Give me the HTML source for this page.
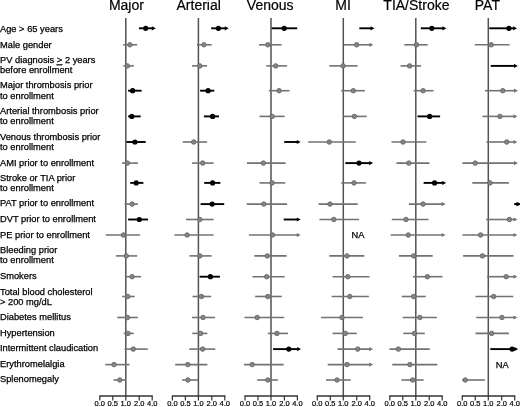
<!DOCTYPE html>
<html><head><meta charset="utf-8"><style>html,body{margin:0;padding:0;background:#fff;}body{width:520px;height:407px;overflow:hidden;}svg{display:block;will-change:transform;}text{font-family:"Liberation Sans",sans-serif;}</style></head><body>
<svg width="520" height="407" viewBox="0 0 520 407">
<rect width="520" height="407" fill="#fff"/>
<g font-size="9.3" fill="#000" stroke="#000" stroke-width="0.25">
<text x="0" y="32.3">Age &gt; 65 years</text>
<text x="0" y="47.6">Male gender</text>
<text x="0" y="63.3">PV diagnosis <tspan text-decoration="underline">&gt;</tspan> 2 years</text>
<text x="0" y="73">before enrollment</text>
<text x="0" y="88.4">Major thrombosis prior</text>
<text x="0" y="98.8">to enrollment</text>
<text x="0" y="113.9">Arterial thrombosis prior</text>
<text x="0" y="124.3">to enrollment</text>
<text x="0" y="140">Venous thrombosis prior</text>
<text x="0" y="149.9">to enrollment</text>
<text x="0" y="165.5">AMI prior to enrollment</text>
<text x="0" y="180.7">Stroke or TIA prior</text>
<text x="0" y="190.5">to enrollment</text>
<text x="0" y="206.2">PAT prior to enrollment</text>
<text x="0" y="221.9">DVT prior to enrollment</text>
<text x="0" y="237.6">PE prior to enrollment</text>
<text x="0" y="252.7">Bleeding prior</text>
<text x="0" y="263.1">to enrollment</text>
<text x="0" y="278.8">Smokers</text>
<text x="0" y="294.6">Total blood cholesterol</text>
<text x="0" y="305">&gt; 200 mg/dL</text>
<text x="0" y="320.2">Diabetes mellitus</text>
<text x="0" y="335.5">Hypertension</text>
<text x="0" y="351.3">Intermittent claudication</text>
<text x="0" y="366.6">Erythromelalgia</text>
<text x="0" y="382.2">Splenomegaly</text>
</g>
<text x="126.4" y="9.6" font-size="14" text-anchor="middle" fill="#000" stroke="#000" stroke-width="0.2">Major</text>
<line x1="125.8" y1="18" x2="125.8" y2="396" stroke="#525252" stroke-width="1.5"/>
<line x1="99.2" y1="396" x2="152.8" y2="396" stroke="#333333" stroke-width="1.3"/>
<line x1="99.8" y1="396" x2="99.8" y2="400.5" stroke="#333333" stroke-width="1.2"/>
<text x="99.8" y="406" font-size="7.5" text-anchor="middle" fill="#000" stroke="#000" stroke-width="0.2">0.0</text>
<line x1="112.8" y1="396" x2="112.8" y2="400.5" stroke="#333333" stroke-width="1.2"/>
<text x="112.8" y="406" font-size="7.5" text-anchor="middle" fill="#000" stroke="#000" stroke-width="0.2">0.5</text>
<line x1="125.8" y1="396" x2="125.8" y2="400.5" stroke="#333333" stroke-width="1.2"/>
<text x="125.8" y="406" font-size="7.5" text-anchor="middle" fill="#000" stroke="#000" stroke-width="0.2">1.0</text>
<line x1="139.2" y1="396" x2="139.2" y2="400.5" stroke="#333333" stroke-width="1.2"/>
<text x="139.2" y="406" font-size="7.5" text-anchor="middle" fill="#000" stroke="#000" stroke-width="0.2">2.0</text>
<line x1="152.2" y1="396" x2="152.2" y2="400.5" stroke="#333333" stroke-width="1.2"/>
<text x="152.2" y="406" font-size="7.5" text-anchor="middle" fill="#000" stroke="#000" stroke-width="0.2">4.0</text>
<line x1="139" y1="28.3" x2="152.4" y2="28.3" stroke="#000000" stroke-width="1.9"/>
<path d="M155.8 28.3L151.9 26.2L151.9 30.4Z" fill="#000000"/>
<circle cx="145.7" cy="28.3" r="2.6" fill="#000000"/>
<line x1="123.2" y1="44.8" x2="137.2" y2="44.8" stroke="#727272" stroke-width="1.6"/>
<circle cx="129.9" cy="44.8" r="2.25" fill="#858585" stroke="#666666" stroke-width="0.9"/>
<line x1="123.4" y1="65.9" x2="133.9" y2="65.9" stroke="#727272" stroke-width="1.6"/>
<circle cx="127.4" cy="65.9" r="2.25" fill="#858585" stroke="#666666" stroke-width="0.9"/>
<line x1="128.1" y1="90.7" x2="141.6" y2="90.7" stroke="#000000" stroke-width="1.9"/>
<circle cx="132.6" cy="90.7" r="2.6" fill="#000000"/>
<line x1="128.1" y1="116.4" x2="140.7" y2="116.4" stroke="#000000" stroke-width="1.9"/>
<circle cx="131.8" cy="116.4" r="2.6" fill="#000000"/>
<line x1="126.4" y1="142" x2="145.7" y2="142" stroke="#000000" stroke-width="1.9"/>
<circle cx="134.9" cy="142" r="2.6" fill="#000000"/>
<line x1="122" y1="163.1" x2="138" y2="163.1" stroke="#727272" stroke-width="1.6"/>
<circle cx="127.4" cy="163.1" r="2.25" fill="#858585" stroke="#666666" stroke-width="0.9"/>
<line x1="130.2" y1="182.9" x2="143.4" y2="182.9" stroke="#000000" stroke-width="1.9"/>
<circle cx="136.2" cy="182.9" r="2.6" fill="#000000"/>
<line x1="124.5" y1="204.1" x2="138" y2="204.1" stroke="#727272" stroke-width="1.6"/>
<circle cx="132.2" cy="204.1" r="2.25" fill="#858585" stroke="#666666" stroke-width="0.9"/>
<line x1="128.1" y1="219.5" x2="148" y2="219.5" stroke="#000000" stroke-width="1.9"/>
<circle cx="139.3" cy="219.5" r="2.6" fill="#000000"/>
<line x1="105.7" y1="235" x2="140.1" y2="235" stroke="#727272" stroke-width="1.6"/>
<circle cx="123.4" cy="235" r="2.25" fill="#858585" stroke="#666666" stroke-width="0.9"/>
<line x1="115.8" y1="255.9" x2="137.2" y2="255.9" stroke="#727272" stroke-width="1.6"/>
<circle cx="126.3" cy="255.9" r="2.25" fill="#858585" stroke="#666666" stroke-width="0.9"/>
<line x1="126.3" y1="276.7" x2="141.1" y2="276.7" stroke="#727272" stroke-width="1.6"/>
<circle cx="132.1" cy="276.7" r="2.25" fill="#858585" stroke="#666666" stroke-width="0.9"/>
<line x1="122.2" y1="296.5" x2="134.7" y2="296.5" stroke="#727272" stroke-width="1.6"/>
<circle cx="127.7" cy="296.5" r="2.25" fill="#858585" stroke="#666666" stroke-width="0.9"/>
<line x1="117.3" y1="317.5" x2="137.9" y2="317.5" stroke="#727272" stroke-width="1.6"/>
<circle cx="127.4" cy="317.5" r="2.25" fill="#858585" stroke="#666666" stroke-width="0.9"/>
<line x1="123.7" y1="333.4" x2="133.8" y2="333.4" stroke="#727272" stroke-width="1.6"/>
<circle cx="128" cy="333.4" r="2.25" fill="#858585" stroke="#666666" stroke-width="0.9"/>
<line x1="124.5" y1="349.1" x2="147.8" y2="349.1" stroke="#727272" stroke-width="1.6"/>
<circle cx="133.3" cy="349.1" r="2.25" fill="#858585" stroke="#666666" stroke-width="0.9"/>
<line x1="105.2" y1="364.6" x2="129.5" y2="364.6" stroke="#727272" stroke-width="1.6"/>
<circle cx="114" cy="364.6" r="2.25" fill="#858585" stroke="#666666" stroke-width="0.9"/>
<line x1="113.5" y1="380" x2="125.6" y2="380" stroke="#727272" stroke-width="1.6"/>
<circle cx="119.8" cy="380" r="2.25" fill="#858585" stroke="#666666" stroke-width="0.9"/>
<text x="198.7" y="9.6" font-size="14" text-anchor="middle" fill="#000" stroke="#000" stroke-width="0.2">Arterial</text>
<line x1="198.4" y1="18" x2="198.4" y2="396" stroke="#525252" stroke-width="1.5"/>
<line x1="171.8" y1="396" x2="225.4" y2="396" stroke="#333333" stroke-width="1.3"/>
<line x1="172.4" y1="396" x2="172.4" y2="400.5" stroke="#333333" stroke-width="1.2"/>
<text x="172.4" y="406" font-size="7.5" text-anchor="middle" fill="#000" stroke="#000" stroke-width="0.2">0.0</text>
<line x1="185.4" y1="396" x2="185.4" y2="400.5" stroke="#333333" stroke-width="1.2"/>
<text x="185.4" y="406" font-size="7.5" text-anchor="middle" fill="#000" stroke="#000" stroke-width="0.2">0.5</text>
<line x1="198.4" y1="396" x2="198.4" y2="400.5" stroke="#333333" stroke-width="1.2"/>
<text x="198.4" y="406" font-size="7.5" text-anchor="middle" fill="#000" stroke="#000" stroke-width="0.2">1.0</text>
<line x1="211.8" y1="396" x2="211.8" y2="400.5" stroke="#333333" stroke-width="1.2"/>
<text x="211.8" y="406" font-size="7.5" text-anchor="middle" fill="#000" stroke="#000" stroke-width="0.2">2.0</text>
<line x1="224.8" y1="396" x2="224.8" y2="400.5" stroke="#333333" stroke-width="1.2"/>
<text x="224.8" y="406" font-size="7.5" text-anchor="middle" fill="#000" stroke="#000" stroke-width="0.2">4.0</text>
<line x1="211.2" y1="28.3" x2="225.3" y2="28.3" stroke="#000000" stroke-width="1.9"/>
<path d="M228.7 28.3L224.8 26.2L224.8 30.4Z" fill="#000000"/>
<circle cx="218.4" cy="28.3" r="2.6" fill="#000000"/>
<line x1="196.9" y1="44.8" x2="211.7" y2="44.8" stroke="#727272" stroke-width="1.6"/>
<circle cx="203.9" cy="44.8" r="2.25" fill="#858585" stroke="#666666" stroke-width="0.9"/>
<line x1="191.9" y1="65.9" x2="207.1" y2="65.9" stroke="#727272" stroke-width="1.6"/>
<circle cx="199.8" cy="65.9" r="2.25" fill="#858585" stroke="#666666" stroke-width="0.9"/>
<line x1="200.1" y1="90.7" x2="214.3" y2="90.7" stroke="#000000" stroke-width="1.9"/>
<circle cx="208.1" cy="90.7" r="2.6" fill="#000000"/>
<line x1="203.9" y1="116.4" x2="219" y2="116.4" stroke="#000000" stroke-width="1.9"/>
<circle cx="212.6" cy="116.4" r="2.6" fill="#000000"/>
<line x1="182.7" y1="142" x2="207.1" y2="142" stroke="#727272" stroke-width="1.6"/>
<circle cx="193.7" cy="142" r="2.25" fill="#858585" stroke="#666666" stroke-width="0.9"/>
<line x1="191.9" y1="163.1" x2="213.6" y2="163.1" stroke="#727272" stroke-width="1.6"/>
<circle cx="202.7" cy="163.1" r="2.25" fill="#858585" stroke="#666666" stroke-width="0.9"/>
<line x1="204.2" y1="182.9" x2="220.4" y2="182.9" stroke="#000000" stroke-width="1.9"/>
<circle cx="212.6" cy="182.9" r="2.6" fill="#000000"/>
<line x1="200.6" y1="204.1" x2="224.2" y2="204.1" stroke="#000000" stroke-width="1.9"/>
<circle cx="212.2" cy="204.1" r="2.6" fill="#000000"/>
<line x1="186" y1="219.5" x2="213.6" y2="219.5" stroke="#727272" stroke-width="1.6"/>
<circle cx="199.8" cy="219.5" r="2.25" fill="#858585" stroke="#666666" stroke-width="0.9"/>
<line x1="174.4" y1="235" x2="213.6" y2="235" stroke="#727272" stroke-width="1.6"/>
<circle cx="187.1" cy="235" r="2.25" fill="#858585" stroke="#666666" stroke-width="0.9"/>
<line x1="189.4" y1="255.9" x2="211.7" y2="255.9" stroke="#727272" stroke-width="1.6"/>
<circle cx="199.8" cy="255.9" r="2.25" fill="#858585" stroke="#666666" stroke-width="0.9"/>
<line x1="199.6" y1="276.7" x2="219.9" y2="276.7" stroke="#000000" stroke-width="1.9"/>
<circle cx="210.4" cy="276.7" r="2.6" fill="#000000"/>
<line x1="192.5" y1="296.5" x2="211.2" y2="296.5" stroke="#727272" stroke-width="1.6"/>
<circle cx="201.5" cy="296.5" r="2.25" fill="#858585" stroke="#666666" stroke-width="0.9"/>
<line x1="191.9" y1="317.5" x2="215.1" y2="317.5" stroke="#727272" stroke-width="1.6"/>
<circle cx="203" cy="317.5" r="2.25" fill="#858585" stroke="#666666" stroke-width="0.9"/>
<line x1="192.3" y1="333.4" x2="207.4" y2="333.4" stroke="#727272" stroke-width="1.6"/>
<circle cx="200.6" cy="333.4" r="2.25" fill="#858585" stroke="#666666" stroke-width="0.9"/>
<line x1="189.2" y1="349.1" x2="215.3" y2="349.1" stroke="#727272" stroke-width="1.6"/>
<circle cx="202.6" cy="349.1" r="2.25" fill="#858585" stroke="#666666" stroke-width="0.9"/>
<line x1="175.2" y1="364.6" x2="207.4" y2="364.6" stroke="#727272" stroke-width="1.6"/>
<circle cx="187.8" cy="364.6" r="2.25" fill="#858585" stroke="#666666" stroke-width="0.9"/>
<line x1="182.1" y1="380" x2="198.1" y2="380" stroke="#727272" stroke-width="1.6"/>
<circle cx="187.9" cy="380" r="2.25" fill="#858585" stroke="#666666" stroke-width="0.9"/>
<text x="270.2" y="9.6" font-size="14" text-anchor="middle" fill="#000" stroke="#000" stroke-width="0.2">Venous</text>
<line x1="271" y1="18" x2="271" y2="396" stroke="#525252" stroke-width="1.5"/>
<line x1="244.4" y1="396" x2="298" y2="396" stroke="#333333" stroke-width="1.3"/>
<line x1="245" y1="396" x2="245" y2="400.5" stroke="#333333" stroke-width="1.2"/>
<text x="245" y="406" font-size="7.5" text-anchor="middle" fill="#000" stroke="#000" stroke-width="0.2">0.0</text>
<line x1="258" y1="396" x2="258" y2="400.5" stroke="#333333" stroke-width="1.2"/>
<text x="258" y="406" font-size="7.5" text-anchor="middle" fill="#000" stroke="#000" stroke-width="0.2">0.5</text>
<line x1="271" y1="396" x2="271" y2="400.5" stroke="#333333" stroke-width="1.2"/>
<text x="271" y="406" font-size="7.5" text-anchor="middle" fill="#000" stroke="#000" stroke-width="0.2">1.0</text>
<line x1="284.4" y1="396" x2="284.4" y2="400.5" stroke="#333333" stroke-width="1.2"/>
<text x="284.4" y="406" font-size="7.5" text-anchor="middle" fill="#000" stroke="#000" stroke-width="0.2">2.0</text>
<line x1="297.4" y1="396" x2="297.4" y2="400.5" stroke="#333333" stroke-width="1.2"/>
<text x="297.4" y="406" font-size="7.5" text-anchor="middle" fill="#000" stroke="#000" stroke-width="0.2">4.0</text>
<line x1="271.7" y1="28.3" x2="297.2" y2="28.3" stroke="#000000" stroke-width="1.9"/>
<circle cx="284.2" cy="28.3" r="2.6" fill="#000000"/>
<line x1="259" y1="44.8" x2="281.5" y2="44.8" stroke="#727272" stroke-width="1.6"/>
<circle cx="267.8" cy="44.8" r="2.25" fill="#858585" stroke="#666666" stroke-width="0.9"/>
<line x1="266.3" y1="65.9" x2="287.1" y2="65.9" stroke="#727272" stroke-width="1.6"/>
<circle cx="275.7" cy="65.9" r="2.25" fill="#858585" stroke="#666666" stroke-width="0.9"/>
<line x1="268.8" y1="90.7" x2="289.5" y2="90.7" stroke="#727272" stroke-width="1.6"/>
<circle cx="279.1" cy="90.7" r="2.25" fill="#858585" stroke="#666666" stroke-width="0.9"/>
<line x1="259.5" y1="116.4" x2="284.7" y2="116.4" stroke="#727272" stroke-width="1.6"/>
<circle cx="272.1" cy="116.4" r="2.25" fill="#858585" stroke="#666666" stroke-width="0.9"/>
<line x1="284.2" y1="142" x2="297.3" y2="142" stroke="#000000" stroke-width="1.9"/>
<path d="M300.7 142L296.8 139.9L296.8 144.1Z" fill="#000000"/>
<line x1="247" y1="163.1" x2="285.6" y2="163.1" stroke="#727272" stroke-width="1.6"/>
<circle cx="263.4" cy="163.1" r="2.25" fill="#858585" stroke="#666666" stroke-width="0.9"/>
<line x1="259.5" y1="182.9" x2="285.2" y2="182.9" stroke="#727272" stroke-width="1.6"/>
<circle cx="272.1" cy="182.9" r="2.25" fill="#858585" stroke="#666666" stroke-width="0.9"/>
<line x1="246.7" y1="204.1" x2="287.1" y2="204.1" stroke="#727272" stroke-width="1.6"/>
<circle cx="263.8" cy="204.1" r="2.25" fill="#858585" stroke="#666666" stroke-width="0.9"/>
<line x1="283.7" y1="219.5" x2="297.3" y2="219.5" stroke="#000000" stroke-width="1.9"/>
<path d="M300.7 219.5L296.8 217.4L296.8 221.6Z" fill="#000000"/>
<line x1="248.9" y1="235" x2="297.3" y2="235" stroke="#727272" stroke-width="1.6"/>
<path d="M300.7 235L296.8 232.9L296.8 237.1Z" fill="#727272"/>
<circle cx="272.5" cy="235" r="2.25" fill="#858585" stroke="#666666" stroke-width="0.9"/>
<line x1="254.3" y1="255.9" x2="286.6" y2="255.9" stroke="#727272" stroke-width="1.6"/>
<circle cx="267.3" cy="255.9" r="2.25" fill="#858585" stroke="#666666" stroke-width="0.9"/>
<line x1="252.5" y1="276.7" x2="284.7" y2="276.7" stroke="#727272" stroke-width="1.6"/>
<circle cx="266.7" cy="276.7" r="2.25" fill="#858585" stroke="#666666" stroke-width="0.9"/>
<line x1="255.1" y1="296.5" x2="281.8" y2="296.5" stroke="#727272" stroke-width="1.6"/>
<circle cx="267.8" cy="296.5" r="2.25" fill="#858585" stroke="#666666" stroke-width="0.9"/>
<line x1="244.5" y1="317.5" x2="284.2" y2="317.5" stroke="#727272" stroke-width="1.6"/>
<circle cx="257.2" cy="317.5" r="2.25" fill="#858585" stroke="#666666" stroke-width="0.9"/>
<line x1="267.8" y1="333.4" x2="288.1" y2="333.4" stroke="#727272" stroke-width="1.6"/>
<circle cx="276.9" cy="333.4" r="2.25" fill="#858585" stroke="#666666" stroke-width="0.9"/>
<line x1="273.1" y1="349.1" x2="297.6" y2="349.1" stroke="#000000" stroke-width="1.9"/>
<path d="M301 349.1L297.1 347L297.1 351.2Z" fill="#000000"/>
<circle cx="288.8" cy="349.1" r="2.6" fill="#000000"/>
<line x1="244.1" y1="364.6" x2="283.7" y2="364.6" stroke="#727272" stroke-width="1.6"/>
<circle cx="252.2" cy="364.6" r="2.25" fill="#858585" stroke="#666666" stroke-width="0.9"/>
<line x1="257.2" y1="380" x2="277.9" y2="380" stroke="#727272" stroke-width="1.6"/>
<circle cx="267.8" cy="380" r="2.25" fill="#858585" stroke="#666666" stroke-width="0.9"/>
<text x="343" y="9.6" font-size="14" text-anchor="middle" fill="#000" stroke="#000" stroke-width="0.2">MI</text>
<line x1="343.3" y1="18" x2="343.3" y2="396" stroke="#525252" stroke-width="1.5"/>
<line x1="316.7" y1="396" x2="370.3" y2="396" stroke="#333333" stroke-width="1.3"/>
<line x1="317.3" y1="396" x2="317.3" y2="400.5" stroke="#333333" stroke-width="1.2"/>
<text x="317.3" y="406" font-size="7.5" text-anchor="middle" fill="#000" stroke="#000" stroke-width="0.2">0.0</text>
<line x1="330.3" y1="396" x2="330.3" y2="400.5" stroke="#333333" stroke-width="1.2"/>
<text x="330.3" y="406" font-size="7.5" text-anchor="middle" fill="#000" stroke="#000" stroke-width="0.2">0.5</text>
<line x1="343.3" y1="396" x2="343.3" y2="400.5" stroke="#333333" stroke-width="1.2"/>
<text x="343.3" y="406" font-size="7.5" text-anchor="middle" fill="#000" stroke="#000" stroke-width="0.2">1.0</text>
<line x1="356.7" y1="396" x2="356.7" y2="400.5" stroke="#333333" stroke-width="1.2"/>
<text x="356.7" y="406" font-size="7.5" text-anchor="middle" fill="#000" stroke="#000" stroke-width="0.2">2.0</text>
<line x1="369.7" y1="396" x2="369.7" y2="400.5" stroke="#333333" stroke-width="1.2"/>
<text x="369.7" y="406" font-size="7.5" text-anchor="middle" fill="#000" stroke="#000" stroke-width="0.2">4.0</text>
<line x1="359.3" y1="28.3" x2="371.1" y2="28.3" stroke="#000000" stroke-width="1.9"/>
<path d="M374.5 28.3L370.6 26.2L370.6 30.4Z" fill="#000000"/>
<line x1="343.7" y1="44.8" x2="369.9" y2="44.8" stroke="#727272" stroke-width="1.6"/>
<path d="M373.3 44.8L369.4 42.7L369.4 46.9Z" fill="#727272"/>
<circle cx="356.7" cy="44.8" r="2.25" fill="#858585" stroke="#666666" stroke-width="0.9"/>
<line x1="329.2" y1="65.9" x2="357.6" y2="65.9" stroke="#727272" stroke-width="1.6"/>
<circle cx="343.1" cy="65.9" r="2.25" fill="#858585" stroke="#666666" stroke-width="0.9"/>
<line x1="341.2" y1="90.7" x2="364.9" y2="90.7" stroke="#727272" stroke-width="1.6"/>
<circle cx="353.3" cy="90.7" r="2.25" fill="#858585" stroke="#666666" stroke-width="0.9"/>
<line x1="343.2" y1="116.4" x2="366.7" y2="116.4" stroke="#727272" stroke-width="1.6"/>
<circle cx="354.4" cy="116.4" r="2.25" fill="#858585" stroke="#666666" stroke-width="0.9"/>
<line x1="308.2" y1="142" x2="355.7" y2="142" stroke="#727272" stroke-width="1.6"/>
<circle cx="329.3" cy="142" r="2.25" fill="#858585" stroke="#666666" stroke-width="0.9"/>
<line x1="345.3" y1="163.1" x2="369.7" y2="163.1" stroke="#000000" stroke-width="1.9"/>
<path d="M373.1 163.1L369.2 161L369.2 165.2Z" fill="#000000"/>
<circle cx="359" cy="163.1" r="2.6" fill="#000000"/>
<line x1="341.2" y1="182.9" x2="365.9" y2="182.9" stroke="#727272" stroke-width="1.6"/>
<circle cx="354" cy="182.9" r="2.25" fill="#858585" stroke="#666666" stroke-width="0.9"/>
<line x1="318.5" y1="204.1" x2="357.7" y2="204.1" stroke="#727272" stroke-width="1.6"/>
<circle cx="330" cy="204.1" r="2.25" fill="#858585" stroke="#666666" stroke-width="0.9"/>
<line x1="319.4" y1="219.5" x2="359" y2="219.5" stroke="#727272" stroke-width="1.6"/>
<circle cx="333.8" cy="219.5" r="2.25" fill="#858585" stroke="#666666" stroke-width="0.9"/>
<text x="357.9" y="238.4" font-size="9.3" text-anchor="middle" fill="#000" stroke="#000" stroke-width="0.25">NA</text>
<line x1="329.3" y1="255.9" x2="364.3" y2="255.9" stroke="#727272" stroke-width="1.6"/>
<circle cx="347" cy="255.9" r="2.25" fill="#858585" stroke="#666666" stroke-width="0.9"/>
<line x1="332.6" y1="276.7" x2="369.5" y2="276.7" stroke="#727272" stroke-width="1.6"/>
<circle cx="347.8" cy="276.7" r="2.25" fill="#858585" stroke="#666666" stroke-width="0.9"/>
<line x1="331.6" y1="296.5" x2="368.9" y2="296.5" stroke="#727272" stroke-width="1.6"/>
<circle cx="349.8" cy="296.5" r="2.25" fill="#858585" stroke="#666666" stroke-width="0.9"/>
<line x1="321.1" y1="317.5" x2="362.9" y2="317.5" stroke="#727272" stroke-width="1.6"/>
<circle cx="342" cy="317.5" r="2.25" fill="#858585" stroke="#666666" stroke-width="0.9"/>
<line x1="332.6" y1="333.4" x2="356.8" y2="333.4" stroke="#727272" stroke-width="1.6"/>
<circle cx="345.3" cy="333.4" r="2.25" fill="#858585" stroke="#666666" stroke-width="0.9"/>
<line x1="337.6" y1="349.1" x2="369.7" y2="349.1" stroke="#727272" stroke-width="1.6"/>
<path d="M373.1 349.1L369.2 347L369.2 351.2Z" fill="#727272"/>
<circle cx="357.7" cy="349.1" r="2.25" fill="#858585" stroke="#666666" stroke-width="0.9"/>
<line x1="327.7" y1="364.6" x2="369.7" y2="364.6" stroke="#727272" stroke-width="1.6"/>
<path d="M373.1 364.6L369.2 362.5L369.2 366.7Z" fill="#727272"/>
<circle cx="347" cy="364.6" r="2.25" fill="#858585" stroke="#666666" stroke-width="0.9"/>
<line x1="326" y1="380" x2="350.7" y2="380" stroke="#727272" stroke-width="1.6"/>
<circle cx="337.1" cy="380" r="2.25" fill="#858585" stroke="#666666" stroke-width="0.9"/>
<text x="416.4" y="9.6" font-size="14" text-anchor="middle" fill="#000" stroke="#000" stroke-width="0.2">TIA/Stroke</text>
<line x1="415.8" y1="18" x2="415.8" y2="396" stroke="#525252" stroke-width="1.5"/>
<line x1="389.2" y1="396" x2="442.8" y2="396" stroke="#333333" stroke-width="1.3"/>
<line x1="389.8" y1="396" x2="389.8" y2="400.5" stroke="#333333" stroke-width="1.2"/>
<text x="389.8" y="406" font-size="7.5" text-anchor="middle" fill="#000" stroke="#000" stroke-width="0.2">0.0</text>
<line x1="402.8" y1="396" x2="402.8" y2="400.5" stroke="#333333" stroke-width="1.2"/>
<text x="402.8" y="406" font-size="7.5" text-anchor="middle" fill="#000" stroke="#000" stroke-width="0.2">0.5</text>
<line x1="415.8" y1="396" x2="415.8" y2="400.5" stroke="#333333" stroke-width="1.2"/>
<text x="415.8" y="406" font-size="7.5" text-anchor="middle" fill="#000" stroke="#000" stroke-width="0.2">1.0</text>
<line x1="429.2" y1="396" x2="429.2" y2="400.5" stroke="#333333" stroke-width="1.2"/>
<text x="429.2" y="406" font-size="7.5" text-anchor="middle" fill="#000" stroke="#000" stroke-width="0.2">2.0</text>
<line x1="442.2" y1="396" x2="442.2" y2="400.5" stroke="#333333" stroke-width="1.2"/>
<text x="442.2" y="406" font-size="7.5" text-anchor="middle" fill="#000" stroke="#000" stroke-width="0.2">4.0</text>
<line x1="420.8" y1="28.3" x2="443" y2="28.3" stroke="#000000" stroke-width="1.9"/>
<path d="M446.4 28.3L442.5 26.2L442.5 30.4Z" fill="#000000"/>
<circle cx="431.8" cy="28.3" r="2.6" fill="#000000"/>
<line x1="404.3" y1="44.8" x2="427.7" y2="44.8" stroke="#727272" stroke-width="1.6"/>
<circle cx="416.5" cy="44.8" r="2.25" fill="#858585" stroke="#666666" stroke-width="0.9"/>
<line x1="400.5" y1="65.9" x2="421.1" y2="65.9" stroke="#727272" stroke-width="1.6"/>
<circle cx="409.6" cy="65.9" r="2.25" fill="#858585" stroke="#666666" stroke-width="0.9"/>
<line x1="413.7" y1="90.7" x2="433.5" y2="90.7" stroke="#727272" stroke-width="1.6"/>
<circle cx="423.1" cy="90.7" r="2.25" fill="#858585" stroke="#666666" stroke-width="0.9"/>
<line x1="417.5" y1="116.4" x2="440.1" y2="116.4" stroke="#000000" stroke-width="1.9"/>
<circle cx="429.7" cy="116.4" r="2.6" fill="#000000"/>
<line x1="391.5" y1="142" x2="426.4" y2="142" stroke="#727272" stroke-width="1.6"/>
<circle cx="403" cy="142" r="2.25" fill="#858585" stroke="#666666" stroke-width="0.9"/>
<line x1="396.4" y1="163.1" x2="429.4" y2="163.1" stroke="#727272" stroke-width="1.6"/>
<circle cx="408.8" cy="163.1" r="2.25" fill="#858585" stroke="#666666" stroke-width="0.9"/>
<line x1="423.6" y1="182.9" x2="442.7" y2="182.9" stroke="#000000" stroke-width="1.9"/>
<path d="M446.1 182.9L442.2 180.8L442.2 185Z" fill="#000000"/>
<circle cx="434.6" cy="182.9" r="2.6" fill="#000000"/>
<line x1="408.8" y1="204.1" x2="442.2" y2="204.1" stroke="#727272" stroke-width="1.6"/>
<path d="M445.6 204.1L441.7 202L441.7 206.2Z" fill="#727272"/>
<circle cx="423.1" cy="204.1" r="2.25" fill="#858585" stroke="#666666" stroke-width="0.9"/>
<line x1="391.8" y1="219.5" x2="428.5" y2="219.5" stroke="#727272" stroke-width="1.6"/>
<circle cx="406" cy="219.5" r="2.25" fill="#858585" stroke="#666666" stroke-width="0.9"/>
<line x1="390.7" y1="235" x2="442.2" y2="235" stroke="#727272" stroke-width="1.6"/>
<path d="M445.6 235L441.7 232.9L441.7 237.1Z" fill="#727272"/>
<circle cx="408.3" cy="235" r="2.25" fill="#858585" stroke="#666666" stroke-width="0.9"/>
<line x1="398.9" y1="255.9" x2="432.7" y2="255.9" stroke="#727272" stroke-width="1.6"/>
<circle cx="413.7" cy="255.9" r="2.25" fill="#858585" stroke="#666666" stroke-width="0.9"/>
<line x1="412.9" y1="276.7" x2="442.5" y2="276.7" stroke="#727272" stroke-width="1.6"/>
<circle cx="427.4" cy="276.7" r="2.25" fill="#858585" stroke="#666666" stroke-width="0.9"/>
<line x1="401.7" y1="296.5" x2="425.7" y2="296.5" stroke="#727272" stroke-width="1.6"/>
<circle cx="413.7" cy="296.5" r="2.25" fill="#858585" stroke="#666666" stroke-width="0.9"/>
<line x1="402.7" y1="317.5" x2="436.8" y2="317.5" stroke="#727272" stroke-width="1.6"/>
<circle cx="419.8" cy="317.5" r="2.25" fill="#858585" stroke="#666666" stroke-width="0.9"/>
<line x1="403.3" y1="333.4" x2="424.8" y2="333.4" stroke="#727272" stroke-width="1.6"/>
<circle cx="414.5" cy="333.4" r="2.25" fill="#858585" stroke="#666666" stroke-width="0.9"/>
<line x1="389.5" y1="349.1" x2="429.7" y2="349.1" stroke="#727272" stroke-width="1.6"/>
<circle cx="398.4" cy="349.1" r="2.25" fill="#858585" stroke="#666666" stroke-width="0.9"/>
<line x1="392.3" y1="364.6" x2="437.3" y2="364.6" stroke="#727272" stroke-width="1.6"/>
<circle cx="409.9" cy="364.6" r="2.25" fill="#858585" stroke="#666666" stroke-width="0.9"/>
<line x1="401.4" y1="380" x2="423.6" y2="380" stroke="#727272" stroke-width="1.6"/>
<circle cx="412.6" cy="380" r="2.25" fill="#858585" stroke="#666666" stroke-width="0.9"/>
<text x="487.4" y="9.6" font-size="14" text-anchor="middle" fill="#000" stroke="#000" stroke-width="0.2">PAT</text>
<line x1="488.3" y1="18" x2="488.3" y2="396" stroke="#525252" stroke-width="1.5"/>
<line x1="461.7" y1="396" x2="515.3" y2="396" stroke="#333333" stroke-width="1.3"/>
<line x1="462.3" y1="396" x2="462.3" y2="400.5" stroke="#333333" stroke-width="1.2"/>
<text x="462.3" y="406" font-size="7.5" text-anchor="middle" fill="#000" stroke="#000" stroke-width="0.2">0.0</text>
<line x1="475.3" y1="396" x2="475.3" y2="400.5" stroke="#333333" stroke-width="1.2"/>
<text x="475.3" y="406" font-size="7.5" text-anchor="middle" fill="#000" stroke="#000" stroke-width="0.2">0.5</text>
<line x1="488.3" y1="396" x2="488.3" y2="400.5" stroke="#333333" stroke-width="1.2"/>
<text x="488.3" y="406" font-size="7.5" text-anchor="middle" fill="#000" stroke="#000" stroke-width="0.2">1.0</text>
<line x1="501.7" y1="396" x2="501.7" y2="400.5" stroke="#333333" stroke-width="1.2"/>
<text x="501.7" y="406" font-size="7.5" text-anchor="middle" fill="#000" stroke="#000" stroke-width="0.2">2.0</text>
<line x1="514.7" y1="396" x2="514.7" y2="400.5" stroke="#333333" stroke-width="1.2"/>
<text x="514.7" y="406" font-size="7.5" text-anchor="middle" fill="#000" stroke="#000" stroke-width="0.2">4.0</text>
<line x1="489.3" y1="28.3" x2="513.6" y2="28.3" stroke="#000000" stroke-width="1.9"/>
<path d="M517 28.3L513.1 26.2L513.1 30.4Z" fill="#000000"/>
<circle cx="508.9" cy="28.3" r="2.6" fill="#000000"/>
<line x1="474.8" y1="44.8" x2="509.6" y2="44.8" stroke="#727272" stroke-width="1.6"/>
<circle cx="491.2" cy="44.8" r="2.25" fill="#858585" stroke="#666666" stroke-width="0.9"/>
<line x1="490.7" y1="65.9" x2="514.5" y2="65.9" stroke="#000000" stroke-width="1.9"/>
<path d="M517.9 65.9L514 63.8L514 68Z" fill="#000000"/>
<line x1="484.9" y1="90.7" x2="514.5" y2="90.7" stroke="#727272" stroke-width="1.6"/>
<path d="M517.9 90.7L514 88.6L514 92.8Z" fill="#727272"/>
<circle cx="502.8" cy="90.7" r="2.25" fill="#858585" stroke="#666666" stroke-width="0.9"/>
<line x1="482.4" y1="116.4" x2="514" y2="116.4" stroke="#727272" stroke-width="1.6"/>
<path d="M517.4 116.4L513.5 114.3L513.5 118.5Z" fill="#727272"/>
<circle cx="499.9" cy="116.4" r="2.25" fill="#858585" stroke="#666666" stroke-width="0.9"/>
<line x1="486.4" y1="142" x2="514" y2="142" stroke="#727272" stroke-width="1.6"/>
<path d="M517.4 142L513.5 139.9L513.5 144.1Z" fill="#727272"/>
<circle cx="506.7" cy="142" r="2.25" fill="#858585" stroke="#666666" stroke-width="0.9"/>
<line x1="462.4" y1="163.1" x2="514.5" y2="163.1" stroke="#727272" stroke-width="1.6"/>
<path d="M517.9 163.1L514 161L514 165.2Z" fill="#727272"/>
<circle cx="475.2" cy="163.1" r="2.25" fill="#858585" stroke="#666666" stroke-width="0.9"/>
<line x1="472.3" y1="182.9" x2="508.9" y2="182.9" stroke="#727272" stroke-width="1.6"/>
<circle cx="490" cy="182.9" r="2.25" fill="#858585" stroke="#666666" stroke-width="0.9"/>
<line x1="514.2" y1="204.1" x2="522" y2="204.1" stroke="#000000" stroke-width="1.9"/>
<circle cx="517.4" cy="204.1" r="1.9" fill="#000000"/>
<line x1="486.2" y1="219.5" x2="514.1" y2="219.5" stroke="#727272" stroke-width="1.6"/>
<path d="M517.5 219.5L513.6 217.4L513.6 221.6Z" fill="#727272"/>
<circle cx="509.4" cy="219.5" r="2.25" fill="#858585" stroke="#666666" stroke-width="0.9"/>
<line x1="462.4" y1="235" x2="514" y2="235" stroke="#727272" stroke-width="1.6"/>
<path d="M517.4 235L513.5 232.9L513.5 237.1Z" fill="#727272"/>
<circle cx="480.6" cy="235" r="2.25" fill="#858585" stroke="#666666" stroke-width="0.9"/>
<line x1="463.1" y1="255.9" x2="513.5" y2="255.9" stroke="#727272" stroke-width="1.6"/>
<circle cx="482.4" cy="255.9" r="2.25" fill="#858585" stroke="#666666" stroke-width="0.9"/>
<line x1="487.1" y1="276.7" x2="514" y2="276.7" stroke="#727272" stroke-width="1.6"/>
<path d="M517.4 276.7L513.5 274.6L513.5 278.8Z" fill="#727272"/>
<circle cx="506.2" cy="276.7" r="2.25" fill="#858585" stroke="#666666" stroke-width="0.9"/>
<line x1="475.5" y1="296.5" x2="513.2" y2="296.5" stroke="#727272" stroke-width="1.6"/>
<circle cx="493.6" cy="296.5" r="2.25" fill="#858585" stroke="#666666" stroke-width="0.9"/>
<line x1="476.2" y1="317.5" x2="514" y2="317.5" stroke="#727272" stroke-width="1.6"/>
<path d="M517.4 317.5L513.5 315.4L513.5 319.6Z" fill="#727272"/>
<circle cx="501.9" cy="317.5" r="2.25" fill="#858585" stroke="#666666" stroke-width="0.9"/>
<line x1="475.5" y1="333.4" x2="508.9" y2="333.4" stroke="#727272" stroke-width="1.6"/>
<circle cx="491.7" cy="333.4" r="2.25" fill="#858585" stroke="#666666" stroke-width="0.9"/>
<line x1="490.3" y1="349.1" x2="514.8" y2="349.1" stroke="#000000" stroke-width="1.9"/>
<path d="M518.2 349.1L514.3 347L514.3 351.2Z" fill="#000000"/>
<circle cx="512.1" cy="349.1" r="2.6" fill="#000000"/>
<text x="502.3" y="368" font-size="9.3" text-anchor="middle" fill="#000" stroke="#000" stroke-width="0.25">NA</text>
<line x1="462.1" y1="380" x2="484.9" y2="380" stroke="#727272" stroke-width="1.6"/>
<circle cx="465.3" cy="380" r="2.25" fill="#858585" stroke="#666666" stroke-width="0.9"/>
</svg></body></html>
